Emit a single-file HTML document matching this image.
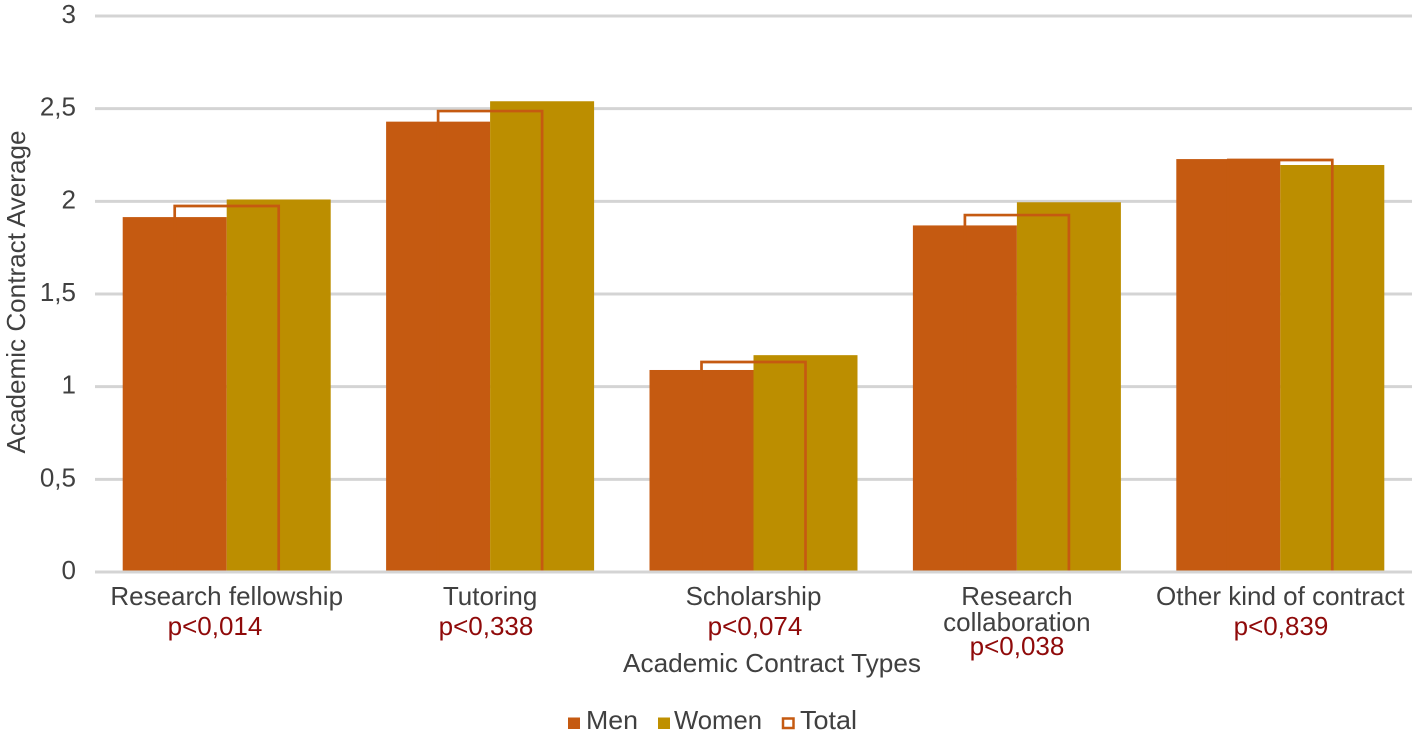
<!DOCTYPE html>
<html>
<head>
<meta charset="utf-8">
<style>
html,body{margin:0;padding:0;background:#fff;width:1418px;height:735px;overflow:hidden}
svg{display:block}
text{font-family:"Liberation Sans",sans-serif;fill:#404040;font-size:26px}
.p{fill:#8f0a0a}
</style>
</head>
<body>
<svg id="chart" width="1418" height="735" viewBox="0 0 1418 735" xmlns="http://www.w3.org/2000/svg">
  <g id="grid"></g>
  <g id="yticks"></g>
  <g id="bars"></g>
  <g id="xlabels"></g>
  <text class="p" x="215" y="635" text-anchor="middle">p&lt;0,014</text>
  <text class="p" x="486" y="635" text-anchor="middle">p&lt;0,338</text>
  <text class="p" x="755" y="635" text-anchor="middle">p&lt;0,074</text>
  <text class="p" x="1017" y="655" text-anchor="middle">p&lt;0,038</text>
  <text class="p" x="1281" y="635" text-anchor="middle">p&lt;0,839</text>
  <text transform="translate(25,292) rotate(-90)" text-anchor="middle" textLength="323" lengthAdjust="spacingAndGlyphs">Academic Contract Average</text>
  <text x="772" y="672" text-anchor="middle" textLength="298" lengthAdjust="spacingAndGlyphs">Academic Contract Types</text>
  <g>
    <rect x="568" y="717.5" width="12" height="11.5" fill="#c55a11"/>
    <text x="586" y="729" textLength="52" lengthAdjust="spacingAndGlyphs">Men</text>
    <rect x="658" y="717.5" width="12" height="11.5" fill="#bf9000"/>
    <text x="674" y="729" textLength="88" lengthAdjust="spacingAndGlyphs">Women</text>
    <rect x="783" y="718.5" width="10.5" height="9.5" fill="none" stroke="#c55a11" stroke-width="2.5"/>
    <text x="800" y="729" textLength="57" lengthAdjust="spacingAndGlyphs">Total</text>
  </g>
</svg>
<script>
var categories = [["Research fellowship"], ["Tutoring"], ["Scholarship"], ["Research", "collaboration"], ["Other kind of contract"]];
var menValues = [1.915, 2.43, 1.09, 1.87, 2.228];
var womenValues = [2.01, 2.54, 1.17, 1.995, 2.196];
var totalValues = [1.975, 2.487, 1.133, 1.926, 2.223];
var yTicks = [0, 0.5, 1, 1.5, 2, 2.5, 3];
var yTickLabels = ["0", "0,5", "1", "1,5", "2", "2,5", "3"];

var NS = "http://www.w3.org/2000/svg";
var plotLeft = 95, plotRight = 1412, plotTop = 16, plotBottom = 572, yMax = 3;
var barWidth = 104;
var barBase = plotBottom - 1.5;

function yScale(v) { return plotBottom - (v / yMax) * (plotBottom - plotTop); }
function xCenter(i) { return plotLeft + (plotRight - plotLeft) * (i + 0.5) / categories.length; }
function make(tag, attrs, parent) {
  var el = document.createElementNS(NS, tag);
  for (var k in attrs) el.setAttribute(k, attrs[k]);
  parent.appendChild(el);
  return el;
}

var grid = document.getElementById("grid");
var yt = document.getElementById("yticks");
yTicks.forEach(function (t, i) {
  var line = make("line", {x1: plotLeft, x2: plotRight, y1: yScale(t), y2: yScale(t), stroke: "#d4d4d4", "stroke-width": 3}, grid);
  
  
  var lab = make("text", {x: 76, y: yScale(t) + 7, "text-anchor": "end"}, yt);
  
  
  lab.textContent = yTickLabels[i];
});

var bars = document.getElementById("bars");
categories.forEach(function (c, i) {
  var cx = xCenter(i);
  var m = make("rect", {x: cx - barWidth, y: yScale(menValues[i]), width: barWidth, height: barBase - yScale(menValues[i]), fill: "#c55a11"}, bars);
  
  
  var w = make("rect", {x: cx, y: yScale(womenValues[i]), width: barWidth, height: barBase - yScale(womenValues[i]), fill: "#bc8e00"}, bars);
  
  
  var tl = cx - barWidth / 2, tr = cx + barWidth / 2;
  var d = "M" + tl + "," + barBase + " V" + yScale(totalValues[i]) + " H" + tr + " V" + barBase;
  var t = make("path", {d: d, fill: "none", stroke: "#c55a11", "stroke-width": 2.7}, bars);
  
  
});

var xl = document.getElementById("xlabels");
categories.forEach(function (c, i) {
  var cx = xCenter(i);
  c.forEach(function (line, j) {
    var lab = make("text", {x: cx, y: 605 + j * 26, "text-anchor": "middle"}, xl);
    
    
    lab.textContent = line;
  });
});
</script>
</body>
</html>
